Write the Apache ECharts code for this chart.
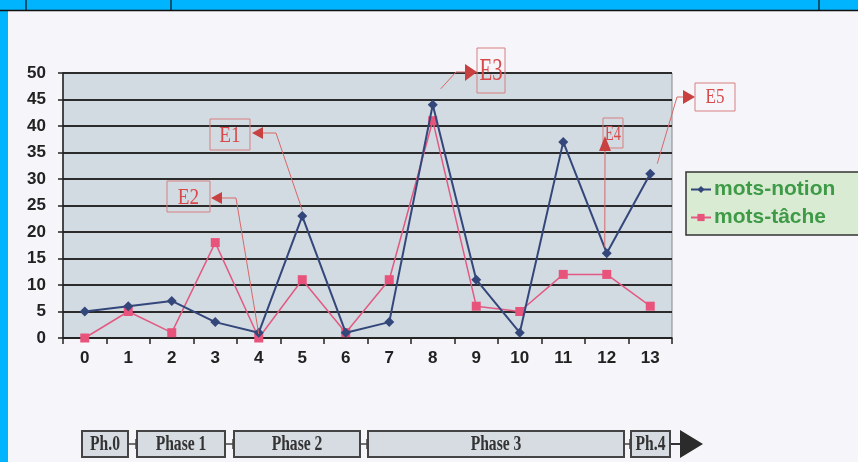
<!DOCTYPE html>
<html><head><meta charset="utf-8">
<script src="https://cdn.jsdelivr.net/npm/echarts@6/dist/echarts.min.js"></script>
<style>html,body{margin:0;padding:0;background:#f5f5fa;}#c{width:858px;height:462px;}</style>
</head><body><div id="c"></div>
<script>
const categories = ['0','1','2','3','4','5','6','7','8','9','10','11','12','13'];
const motsNotion = [5, 6, 7, 3, 1, 23, 1, 3, 44, 11, 1, 37, 16, 31];
const motsTache = [0, 5, 1, 18, 0, 11, 1, 11, 41, 6, 5, 12, 12, 6];
const yTicks = {min: 0, max: 50, interval: 5};
const phases = [
  {label: 'Ph.0', x0: 82, x1: 128},
  {label: 'Phase 1', x0: 137, x1: 225},
  {label: 'Phase 2', x0: 234, x1: 360},
  {label: 'Phase 3', x0: 368, x1: 624},
  {label: 'Ph.4', x0: 631, x1: 670}
];

const chart = echarts.init(document.getElementById('c'));
const axisFont = {fontFamily: 'Liberation Sans, Arial, sans-serif', fontWeight: 'bold', fontSize: 17, color: '#222'};
const option = {
  animation: false,
  backgroundColor: '#f5f5fa',
  grid: {left: 63, right: 186, top: 73, bottom: 124, show: true, backgroundColor: '#d2dae2', borderColor: '#888', borderWidth: 1},
  legend: {
    orient: 'vertical', left: 686, top: 172,
    backgroundColor: '#d9ecd3', borderColor: '#333', borderWidth: 1.5,
    padding: [7, 40, 7, 4], itemGap: 7, itemWidth: 20, itemHeight: 9,
    textStyle: {fontFamily: 'Liberation Sans, Arial, sans-serif', fontWeight: 'bold', fontSize: 21, color: '#3f9a48', padding: [0, 0, 0, -2]},
    data: ['mots-notion', 'mots-tâche']
  },
  xAxis: {
    type: 'category', data: categories, boundaryGap: true,
    axisLine: {lineStyle: {color: '#222', width: 1.5}},
    axisTick: {show: true, length: 6, lineStyle: {color: '#222', width: 1.5}},
    axisLabel: Object.assign({margin: 12}, axisFont)
  },
  yAxis: {
    type: 'value', min: yTicks.min, max: yTicks.max, interval: yTicks.interval,
    axisLine: {show: true, lineStyle: {color: '#222', width: 1.5}},
    axisTick: {show: true, length: 5, lineStyle: {color: '#222', width: 1.5}},
    splitLine: {lineStyle: {color: '#2b2b2b', width: 2}},
    axisLabel: Object.assign({margin: 17}, axisFont)
  },
  series: [
    {name: 'mots-notion', type: 'line', data: motsNotion, symbol: 'diamond', symbolSize: 10,
     lineStyle: {color: '#34477a', width: 2}, itemStyle: {color: '#34477a'}, z: 3},
    {name: 'mots-tâche', type: 'line', data: motsTache, symbol: 'rect', symbolSize: 9,
     lineStyle: {color: '#e25a82', width: 1.5}, itemStyle: {color: '#e8537c'}, z: 2}
  ]
};
chart.setOption(option);

const P = (i, v) => chart.convertToPixel({gridIndex: 0}, [i, v]);
const red = '#d84a4a';
const serif = 'Liberation Serif, Times New Roman, serif';
const g = [];
// top blue band & left strip
g.push({type: 'rect', shape: {x: 0, y: 0, width: 858, height: 10}, style: {fill: '#00b5fd'}, z: 100});
g.push({type: 'line', shape: {x1: 0, y1: 10.5, x2: 858, y2: 10.5}, style: {stroke: '#111', lineWidth: 1.5}, z: 101});
[26, 171, 819].forEach(x => g.push({type: 'line', shape: {x1: x, y1: 0, x2: x, y2: 10}, style: {stroke: '#111', lineWidth: 1.2}, z: 101}));
g.push({type: 'rect', shape: {x: 0, y: 11, width: 8, height: 451}, style: {fill: '#00b5fd'}, z: 100});

function ebox(label, x, y, w, h, fs, sx) {
  g.push({type: 'rect', shape: {x: x, y: y, width: w, height: h}, style: {fill: 'rgba(0,0,0,0)', stroke: '#d98080', lineWidth: 1}, z: 50});
  g.push({type: 'text', x: x + w / 2, y: y + h / 2 + 1, scaleX: sx, style: {text: label, fill: red, font: fs + 'px ' + serif, textAlign: 'center', textVerticalAlign: 'middle'}, z: 51});
}
function tri(pts) {
  g.push({type: 'polygon', shape: {points: pts}, style: {fill: '#c94040'}, z: 52});
}
function pl(pts) {
  g.push({type: 'polyline', shape: {points: pts}, style: {stroke: '#d86868', lineWidth: 1, fill: null}, z: 49});
}
// E1 -> point 5 of notion
const p5 = P(5, motsNotion[5]);
ebox('E1', 210, 119, 40, 31, 24, 0.8);
tri([[252, 133], [263, 127], [263, 139]]);
pl([[263, 133], [276, 133], [p5[0], p5[1] - 6]]);
// E2 -> point 4
const p4 = P(4, motsTache[4]);
ebox('E2', 167, 181, 43, 31, 24, 0.8);
tri([[211, 198], [222, 192], [222, 204]]);
pl([[222, 198], [236, 198], [p4[0], p4[1] - 4]]);
// E3 -> point 8
const p8 = P(8, motsNotion[8]);
ebox('E3', 477, 48, 28, 45, 32, 0.65);
tri([[477, 72], [465, 64], [465, 81]]);
pl([[p8[0] + 8, p8[1] - 16], [456, 72], [465, 72]]);
// E4 -> point 12
const p12 = P(12, motsNotion[12]);
ebox('E4', 603, 118, 20, 30, 22, 0.65);
tri([[605, 136], [599, 151], [611, 151]]);
pl([[605, 151], [p12[0] - 2, p12[1] - 6]]);
// E5 -> point 13
const p13 = P(13, motsNotion[13]);
ebox('E5', 695, 83, 40, 28, 20, 0.85);
tri([[695, 97], [683, 90], [683, 104]]);
pl([[p13[0] + 7, p13[1] - 10], [677, 97], [683, 97]]);

// phase timeline
const ty = 431, th = 26;
phases.forEach((p, i) => {
  g.push({type: 'rect', shape: {x: p.x0, y: ty, width: p.x1 - p.x0, height: th}, style: {fill: '#d6dce2', stroke: '#444', lineWidth: 2}, z: 60});
  g.push({type: 'text', x: (p.x0 + p.x1) / 2, y: ty + th / 2 + 1, scaleX: 0.78, style: {text: p.label, fill: '#333', font: 'bold 20px ' + serif, textAlign: 'center', textVerticalAlign: 'middle'}, z: 61});
  if (i < phases.length - 1) {
    const nx = phases[i + 1].x0;
    g.push({type: 'line', shape: {x1: p.x1, y1: ty + th / 2, x2: nx, y2: ty + th / 2}, style: {stroke: '#444', lineWidth: 1.5}, z: 59});
    g.push({type: 'line', shape: {x1: nx - 1, y1: ty + th / 2 - 5, x2: nx - 1, y2: ty + th / 2 + 5}, style: {stroke: '#444', lineWidth: 1.5}, z: 59});
  }
});
g.push({type: 'line', shape: {x1: 670, y1: ty + th / 2, x2: 682, y2: ty + th / 2}, style: {stroke: '#333', lineWidth: 2}, z: 59});
g.push({type: 'polygon', shape: {points: [[680, ty - 1], [703, ty + th / 2], [680, ty + th + 1]]}, style: {fill: '#2b2b2b'}, z: 60});

chart.setOption({graphic: g});
</script></body></html>
